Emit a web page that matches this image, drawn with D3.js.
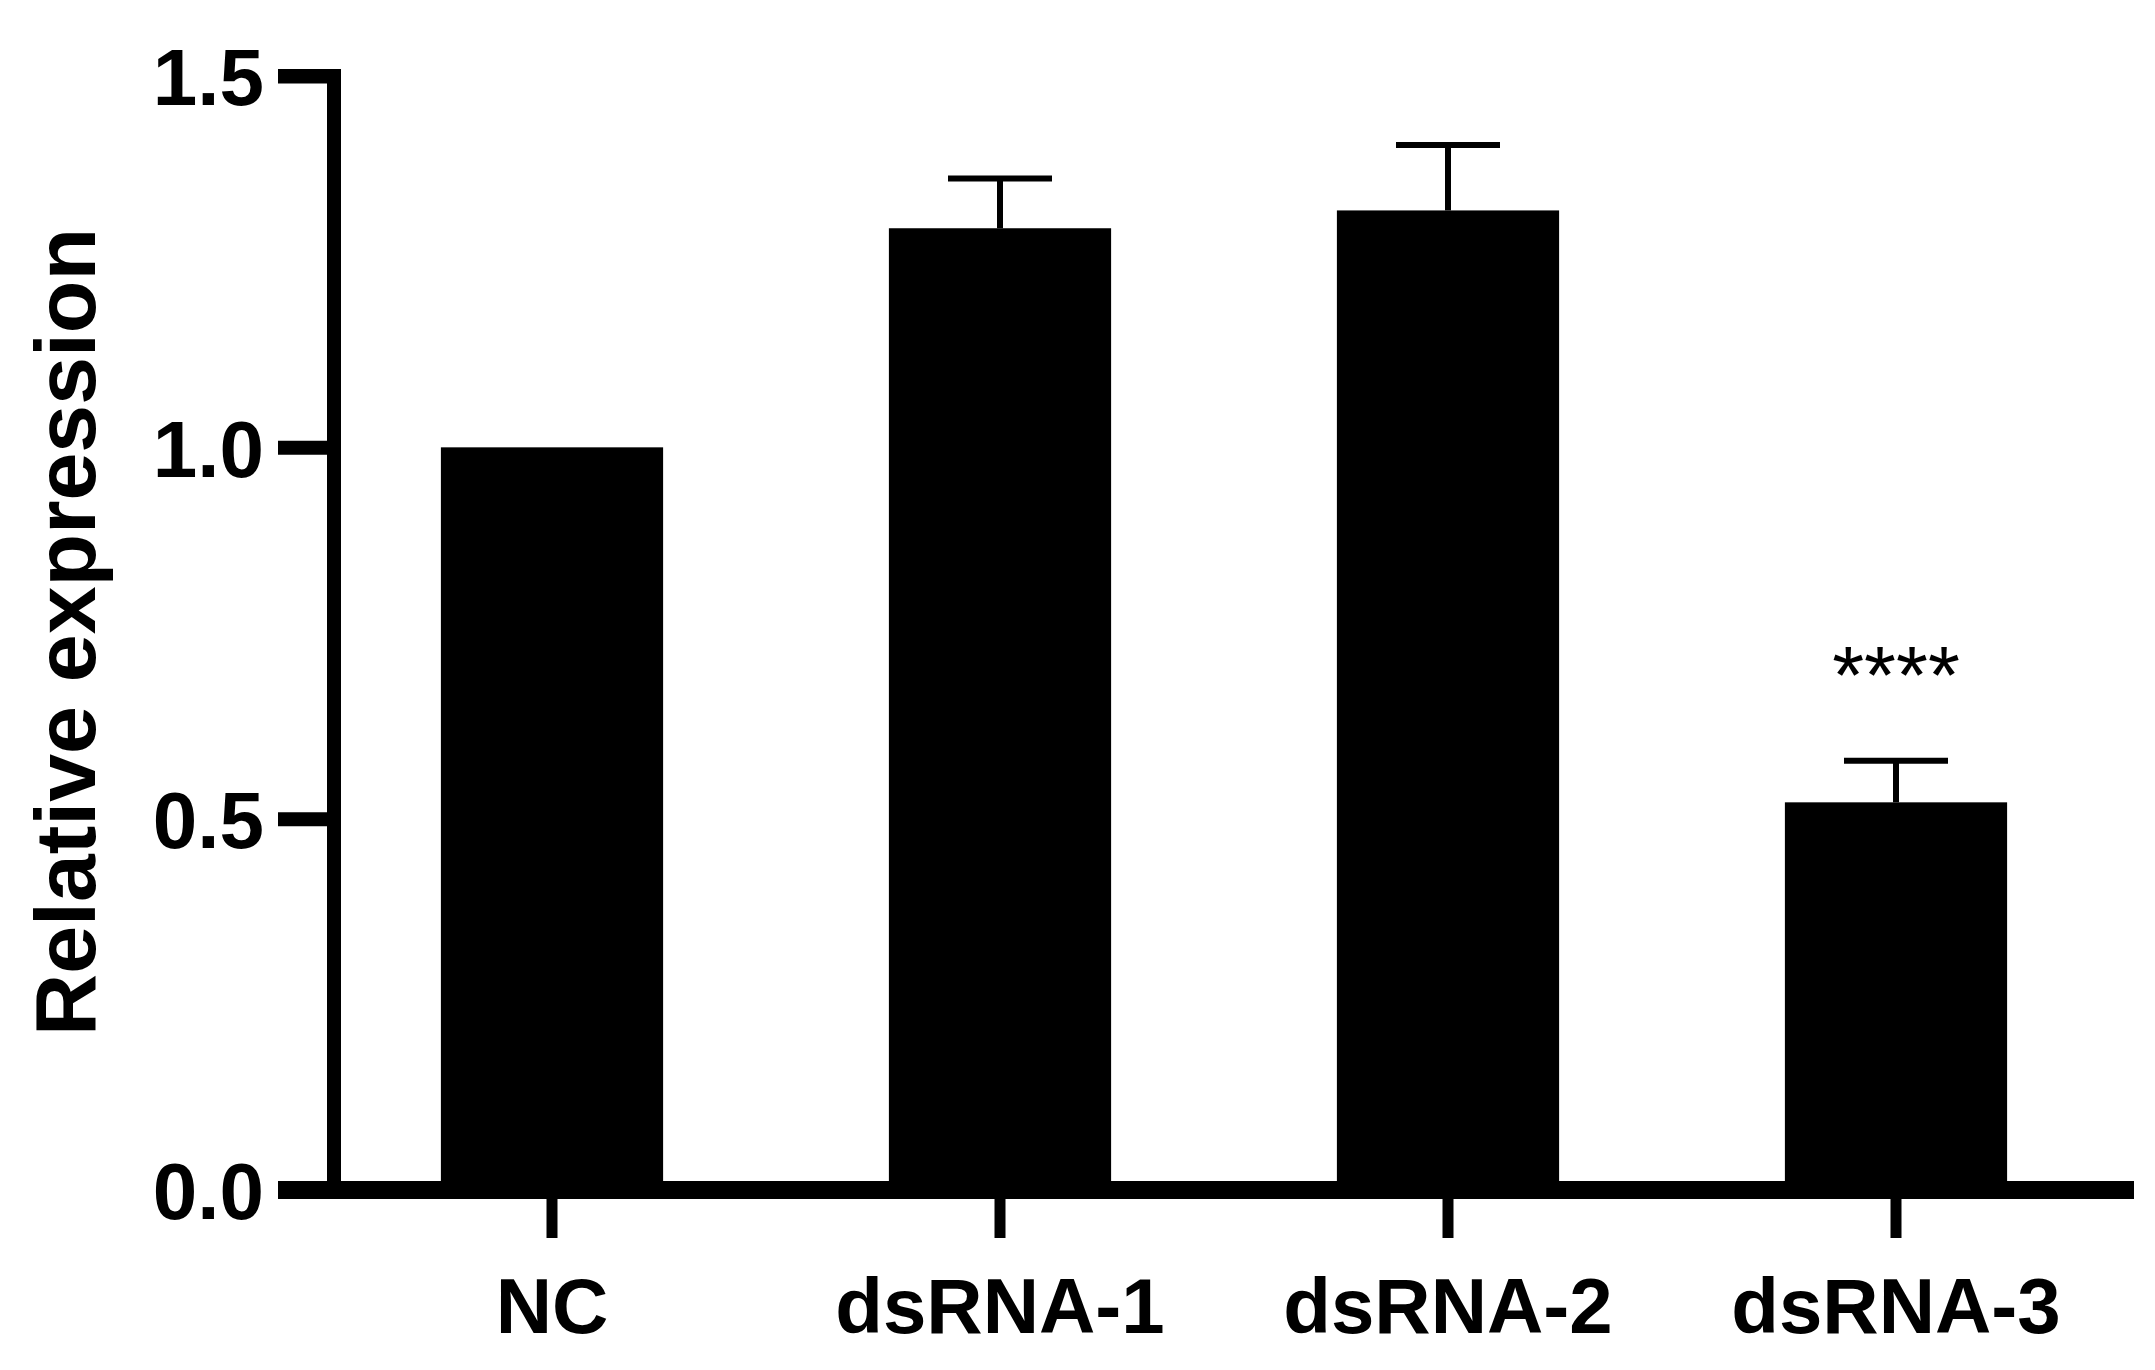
<!DOCTYPE html>
<html><head><meta charset="utf-8">
<script src="https://cdn.jsdelivr.net/npm/d3@7"></script>
<style>body{margin:0;background:#fff}</style></head>
<body><svg id="c" width="2155" height="1370"></svg>
<script>
const categories = ["NC","dsRNA-1","dsRNA-2","dsRNA-3"];
const means = [1.0, 1.295, 1.319, 0.522];
const errors = [0, 0.067, 0.088, 0.056];
const signif = ["","","","****"];
const yTicks = [0.0, 0.5, 1.0, 1.5];

const svg = d3.select("#c");
const font = "'Liberation Sans', Arial, sans-serif";
const x = d3.scaleBand().domain(categories).range([328, 2120]).paddingInner(0.504).paddingOuter(0.252);
const y = d3.scaleLinear().domain([0,1.5]).range([1190, 76]);

svg.selectAll("rect.bar").data(categories).enter().append("rect")
  .attr("x", d=>x(d)).attr("width", x.bandwidth())
  .attr("y", (d,i)=>y(means[i])).attr("height",(d,i)=>y(0)-y(means[i])).attr("fill","#000");

const eb = svg.append("g").attr("stroke","#000").attr("stroke-width",6);
categories.forEach((c,i)=>{
  if(!errors[i]) return;
  const cx = x(c)+x.bandwidth()/2;
  eb.append("line").attr("x1",cx).attr("x2",cx).attr("y1",y(means[i])).attr("y2",y(means[i]+errors[i]));
  eb.append("line").attr("x1",cx-52).attr("x2",cx+52).attr("y1",y(means[i]+errors[i])).attr("y2",y(means[i]+errors[i]));
  if(signif[i]) svg.append("text").attr("x",cx).attr("y",y(means[i]+errors[i])-58)
     .attr("text-anchor","middle").attr("font-family",font).attr("font-size",82).text(signif[i]);
});

const ya = svg.append("g").attr("transform","translate(334,0)")
  .call(d3.axisLeft(y).tickValues(yTicks).tickFormat(d3.format(".1f")).tickSize(56).tickPadding(14));
ya.select(".domain").attr("stroke-width",14).attr("d",`M-56,${y(1.5)}H0V${y(0)}`);
ya.selectAll(".tick line").attr("stroke-width",14);
ya.selectAll("text").attr("font-family",font).attr("font-weight","bold").attr("font-size",80).attr("fill","#000").attr("dy","0.36em");

const xa = svg.append("g").attr("transform",`translate(0,${y(0)})`)
  .call(d3.axisBottom(x).tickSize(48).tickPadding(40));
xa.select(".domain").attr("stroke-width",18).attr("d","M278,0H2134");
xa.selectAll(".tick line").attr("stroke-width",11);
xa.selectAll("text").attr("font-family",font).attr("font-weight","bold").attr("font-size",78).attr("fill","#000");

svg.append("text").attr("transform","translate(95,632) rotate(-90)").attr("text-anchor","middle")
  .attr("font-family",font).attr("font-weight","bold").attr("font-size",86).text("Relative expression");
</script></body></html>
